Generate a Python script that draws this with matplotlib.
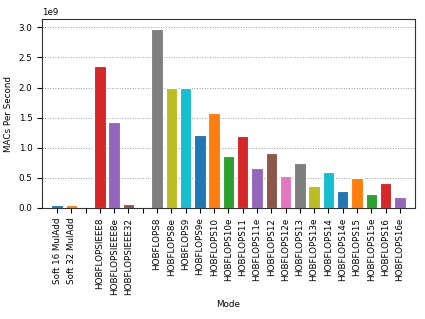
import numpy as np
import matplotlib
matplotlib.use("Agg")
import matplotlib.pyplot as plt

modes = ["Soft 16 MulAdd", "Soft 32 MulAdd", "",
         "HOBFLOPSIEEE8", "HOBFLOPSIEEE8e", "HOBFLOPSIEEE32", "",
         "HOBFLOPS8", "HOBFLOPS8e", "HOBFLOPS9", "HOBFLOPS9e",
         "HOBFLOPS10", "HOBFLOPS10e", "HOBFLOPS11", "HOBFLOPS11e",
         "HOBFLOPS12", "HOBFLOPS12e", "HOBFLOPS13", "HOBFLOPS13e",
         "HOBFLOPS14", "HOBFLOPS14e", "HOBFLOPS15", "HOBFLOPS15e",
         "HOBFLOPS16", "HOBFLOPS16e"]
macs = [0.055e9, 0.045e9, 0,
        2.35e9, 1.43e9, 0.07e9, 0,
        2.97e9, 2.0e9, 2.0e9, 1.21e9,
        1.57e9, 0.865e9, 1.20e9, 0.665e9,
        0.92e9, 0.53e9, 0.755e9, 0.365e9,
        0.605e9, 0.28e9, 0.505e9, 0.23e9,
        0.42e9, 0.18e9]

colors = plt.get_cmap("tab10").colors
x = np.arange(len(modes))
barcols = [colors[i % 10] for i in x]

plt.rcParams["font.size"] = 6.3
fig = plt.figure(figsize=(4.25, 3.19), dpi=100)
ax = fig.add_axes([0.099, 0.348, 0.877, 0.591])
ax.bar(x, macs, width=0.8, color=barcols, edgecolor="white", linewidth=0.8)
ax.set_axisbelow(True)
ax.yaxis.grid(True, linestyle=":", color="#999999", linewidth=0.7)
ax.set_xticks(x)
ax.set_xticklabels(modes, rotation=90)
ax.set_xlim(-1.05, len(modes) - 1 + 1.05)
ax.set_ylim(0, 3.13e9)
ax.set_yticks(np.arange(0, 3.01e9, 0.5e9))
ax.set_xlabel("Mode")
ax.set_ylabel("MACs Per Second")
ax.yaxis.set_label_coords(-0.078, 0.5)
for s in ax.spines.values():
    s.set_color("#333333")
fig.savefig("out.png", dpi=100)
